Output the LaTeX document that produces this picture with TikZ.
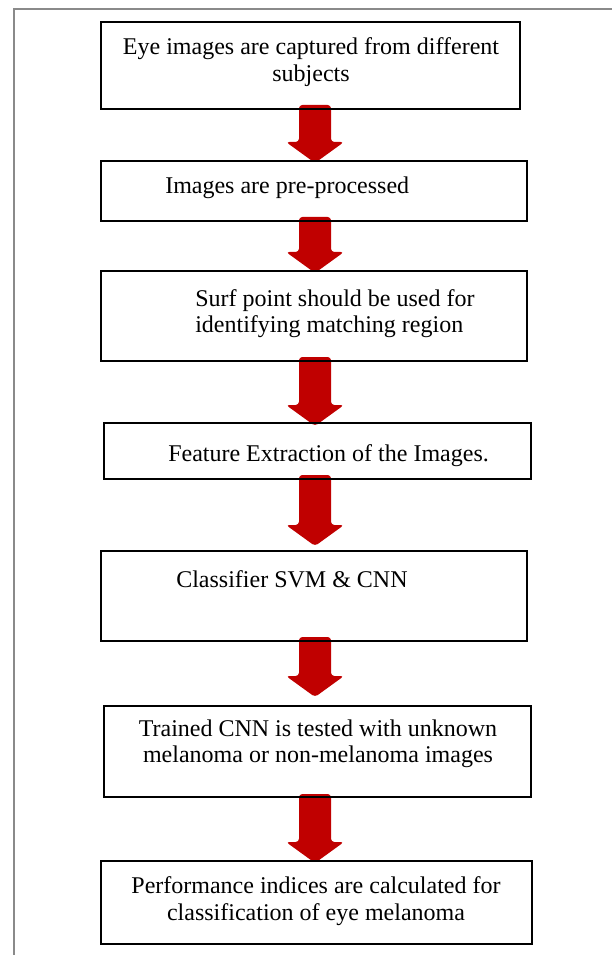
\documentclass[tikz,border=0pt]{standalone}
\usepackage{fontspec}
\setmainfont{Liberation Serif}
\usetikzlibrary{calc}
\definecolor{arrowred}{HTML}{C00000}
\definecolor{framegray}{HTML}{8A8A8A}
\newcommand\blockarrow[2]{%
  \fill[arrowred, rounded corners=2.5pt]
    ($(#1)+(-16,0)$) -- ($(#1)+(16,0)$) -- ($(#2)+(16,-21)$) -- ($(#2)+(29,-21)$)
    -- (#2) -- ($(#2)+(-29,-21)$) -- ($(#2)+(-16,-21)$) -- cycle;}
\begin{document}
\begin{tikzpicture}[x=0.75pt,y=-0.75pt,
  box/.style={draw=black, line width=1.3pt, inner sep=0pt},
  txt/.style={font=\fontsize{18}{20.25}\selectfont, inner sep=0pt},
  ctxt/.style={txt, anchor=base},
  ltxt/.style={txt, anchor=base west}]
\useasboundingbox (0,0) rectangle (611,955);
% outer frame
\draw[framegray, line width=1.1pt] (14,960) -- (14,9) -- (620,9);
% arrows (drawn below box borders)
\coordinate (a1s) at (315,105); \coordinate (a1e) at (315,163);
\coordinate (a2s) at (315,217); \coordinate (a2e) at (315,273);
\coordinate (a3s) at (315,357); \coordinate (a3e) at (315,426);
\coordinate (a4s) at (315,475); \coordinate (a4e) at (315,546);
\coordinate (a5s) at (315,637); \coordinate (a5e) at (315,697);
\coordinate (a6s) at (315,794); \coordinate (a6e) at (315,863);
\blockarrow{a1s}{a1e}
\blockarrow{a2s}{a2e}
\blockarrow{a3s}{a3e}
\blockarrow{a4s}{a4e}
\blockarrow{a5s}{a5e}
\blockarrow{a6s}{a6e}
% boxes
\draw[box] (101,22) rectangle (520,109);
\draw[box] (101,161) rectangle (527,221);
\draw[box] (101,271) rectangle (527,361);
\draw[box] (104,423) rectangle (531,479);
\draw[box] (101,551) rectangle (527,641);
\draw[box] (104,706) rectangle (531,797);
\draw[box] (101,861) rectangle (532,944);
% texts
\node[ctxt] (t1a) at (311,55) {Eye images are captured from different};
\node[ctxt] (t1b) at (311,82) {subjects};
\node[ltxt] (t2) at (165,194) {Images are pre-processed};
\node[ltxt] (t3a) at (195,306) {Surf point should be used for};
\node[ltxt] (t3b) at (195,332) {identifying matching region};
\node[ltxt] (t4) at (168,461) {Feature Extraction of the Images.};
\node[ltxt] (t5) at (176,587) {Classifier SVM \& CNN};
\node[ctxt] (t6a) at (318,736) {Trained CNN is tested with unknown};
\node[ctxt] (t6b) at (318,762) {melanoma or non-melanoma images};
\node[ctxt] (t7a) at (316,893) {Performance indices are calculated for};
\node[ctxt] (t7b) at (316,920) {classification of eye melanoma};
\end{tikzpicture}
\end{document}
